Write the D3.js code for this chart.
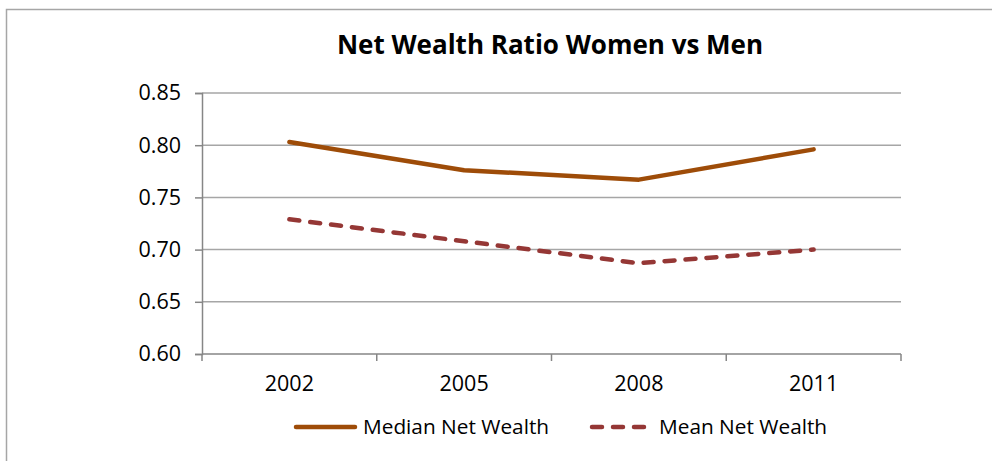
<!DOCTYPE html>
<html>
<head>
<meta charset="utf-8">
<script src="https://cdn.jsdelivr.net/npm/d3@7"></script>
<style>
  body { margin: 0; background: #fff; }
  svg { display: block; font-family: "Open Sans", sans-serif; }
</style>
</head>
<body>
<svg width="992" height="461"></svg>
<script>
// data
var years = ["2002", "2005", "2008", "2011"];
var medianWealth = [0.803, 0.776, 0.767, 0.796];
var meanWealth = [0.729, 0.708, 0.687, 0.700];
var yTicks = [0.60, 0.65, 0.70, 0.75, 0.80, 0.85];

var svg = d3.select("svg");
var margin = { left: 202, right: 91, top: 93, bottom: 107 };
var width = 992 - margin.left - margin.right,
    height = 461 - margin.top - margin.bottom;

// outer frame (chart area border)
svg.append("rect")
    .attr("x", 6.5).attr("y", 9.5)
    .attr("width", 1000).attr("height", 500)
    .attr("fill", "none").attr("stroke", "#a6a6a6").attr("stroke-width", 1.5);

svg.append("text")
    .attr("x", 550).attr("y", 54)
    .attr("text-anchor", "middle")
    .attr("font-size", 26).attr("font-weight", "bold").attr("fill", "#000")
    .text("Net Wealth Ratio Women vs Men");

var g = svg.append("g").attr("transform", "translate(" + margin.left + "," + margin.top + ")");

var x = d3.scaleBand().domain(years).range([0, width]);
var y = d3.scaleLinear().domain([0.60, 0.85]).range([height, 0]);

// gridlines
g.append("g")
    .selectAll("line")
    .data(yTicks.slice(1))
    .enter().append("line")
    .attr("x1", 0).attr("x2", width)
    .attr("y1", function(d) { return y(d); }).attr("y2", function(d) { return y(d); })
    .attr("stroke", "#a6a6a6").attr("stroke-width", 1.5);

// y axis
var yAxis = g.append("g")
    .call(d3.axisLeft(y).tickValues(yTicks).tickFormat(d3.format(".2f")).tickSize(7).tickPadding(14));
yAxis.select(".domain").attr("stroke", "#868686").attr("stroke-width", 1.5);
yAxis.selectAll(".tick line").attr("stroke", "#868686").attr("stroke-width", 1.5);
yAxis.selectAll(".tick text")
    .attr("font-family", "Open Sans").attr("font-size", 21.5).attr("fill", "#000");

// x axis, ticks at category boundaries
var xAxis = g.append("g").attr("transform", "translate(0," + height + ")");
xAxis.append("line")
    .attr("x1", 0).attr("x2", width)
    .attr("stroke", "#868686").attr("stroke-width", 1.5);
xAxis.selectAll(".bound")
    .data(years.concat(["end"]))
    .enter().append("line")
    .attr("x1", function(d, i) { return i * x.bandwidth(); })
    .attr("x2", function(d, i) { return i * x.bandwidth(); })
    .attr("y1", 0).attr("y2", 7)
    .attr("stroke", "#868686").attr("stroke-width", 1.5);
xAxis.selectAll(".lbl")
    .data(years)
    .enter().append("text")
    .attr("x", function(d) { return x(d) + x.bandwidth() / 2; })
    .attr("y", 37)
    .attr("text-anchor", "middle")
    .attr("font-size", 21.5).attr("fill", "#000")
    .text(function(d) { return d; });

var line = d3.line()
    .x(function(d, i) { return x(years[i]) + x.bandwidth() / 2; })
    .y(function(d) { return y(d); });

g.append("path")
    .attr("d", line(medianWealth))
    .attr("fill", "none").attr("stroke", "#9e4c08").attr("stroke-width", 4.5)
    .attr("stroke-linecap", "round").attr("stroke-linejoin", "round");

g.append("path")
    .attr("d", line(meanWealth))
    .attr("fill", "none").attr("stroke", "#953735").attr("stroke-width", 4.5)
    .attr("stroke-linecap", "round").attr("stroke-linejoin", "round")
    .attr("stroke-dasharray", "10,11");

// legend
var legend = svg.append("g").attr("transform", "translate(0,427)");
legend.append("line")
    .attr("x1", 296).attr("x2", 355).attr("y1", 0).attr("y2", 0)
    .attr("stroke", "#9e4c08").attr("stroke-width", 4.5).attr("stroke-linecap", "round");
legend.append("text")
    .attr("x", 363).attr("y", 0).attr("dy", "0.35em")
    .attr("font-size", 20.8).attr("fill", "#000")
    .text("Median Net Wealth");
legend.append("line")
    .attr("x1", 592).attr("x2", 645).attr("y1", 0).attr("y2", 0)
    .attr("stroke", "#953735").attr("stroke-width", 4.5).attr("stroke-linecap", "round")
    .attr("stroke-dasharray", "10,11");
legend.append("text")
    .attr("x", 659).attr("y", 0).attr("dy", "0.35em")
    .attr("font-size", 20.8).attr("fill", "#000")
    .text("Mean Net Wealth");
</script>
</body>
</html>
